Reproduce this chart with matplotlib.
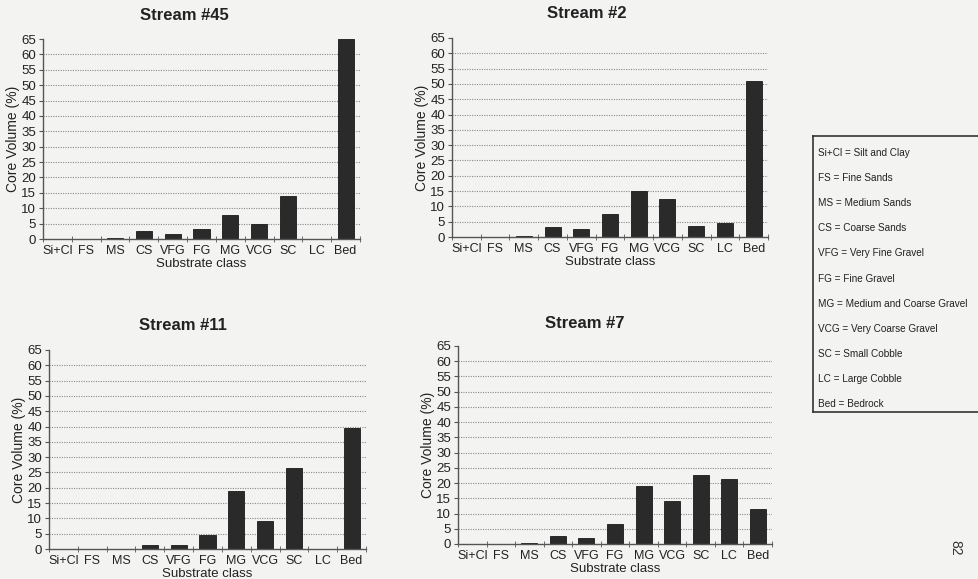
import matplotlib.pyplot as plt
import numpy as np

plt.rcParams['font.family'] = ['Liberation Sans', 'DejaVu Sans']

# Substrate classes and core volume (%) per stream
classes = ["Si+Cl", "FS", "MS", "CS", "VFG", "FG", "MG", "VCG", "SC", "LC", "Bed"]
stream_45 = [0, 0, 0.2, 2.7, 1.6, 3.2, 7.9, 5.0, 13.9, 0, 65.0]
stream_2 = [0, 0.1, 0.2, 3.3, 2.7, 7.4, 15.0, 12.3, 3.7, 4.6, 51.1]
stream_11 = [0, 0, 0, 1.2, 1.4, 4.5, 18.8, 9.1, 26.5, 0, 39.4]
stream_7 = [0, 0.1, 0.4, 2.7, 2.0, 6.6, 19.1, 14.1, 22.7, 21.2, 11.6]

titles = ["Stream #45", "Stream #2", "Stream #11", "Stream #7"]
series = [stream_45, stream_2, stream_11, stream_7]

legend_lines = ["Si+Cl = Silt and Clay", "FS = Fine Sands", "MS = Medium Sands",
                "CS = Coarse Sands", "VFG = Very Fine Gravel", "FG = Fine Gravel",
                "MG = Medium and Coarse Gravel", "VCG = Very Coarse Gravel",
                "SC = Small Cobble", "LC = Large Cobble", "Bed = Bedrock"]

W, H = 979, 579
bg = "#f3f3f2"
fig = plt.figure(figsize=(W / 100, H / 100), dpi=100, facecolor=bg)

# panel boxes in pixels: left, right, top, bottom; title centre x, y
boxes = [(43, 360, 39, 239), (452, 768, 38, 237), (49, 366, 350, 549), (458, 772, 346, 544)]
title_pos = [(184, 15), (587, 13), (183, 325), (585, 323)]

x = np.arange(len(classes))
for (l, r, t, b), (tx, ty), title, vals in zip(boxes, title_pos, titles, series):
    ax = fig.add_axes([l / W, 1 - b / H, (r - l) / W, (b - t) / H])
    ax.set_facecolor(bg)
    for yv in range(5, 65, 5):
        ax.axhline(yv, color="#8a8a8a", lw=0.8, ls=(0, (1, 1.2)), zorder=0)
    ax.bar(x, vals, width=0.56, color="#2a2a2a", edgecolor="#1a1a1a", lw=0.6, zorder=2)
    ax.set_xlim(-0.5, len(classes) - 0.5)
    ax.set_ylim(0, 65)
    ax.set_yticks(np.arange(0, 70, 5))
    ax.set_xticks(x)
    ax.set_xticklabels(classes, fontsize=9, color="#222222")
    ax.set_xticks(np.arange(-0.5, len(classes), 1), minor=True)
    ax.tick_params(axis="x", which="major", length=0, pad=4)
    ax.tick_params(axis="x", which="minor", length=5, direction="inout", color="#555555")
    ax.tick_params(axis="y", labelsize=9.5, length=3, pad=2, color="#555555", labelcolor="#222222")
    for s in ["top", "right"]:
        ax.spines[s].set_visible(False)
    for s in ["left", "bottom"]:
        ax.spines[s].set_color("#555555")
        ax.spines[s].set_linewidth(1.0)
    ax.set_xlabel("Substrate class", fontsize=9.5, color="#222222", labelpad=1)
    ax.set_ylabel("Core Volume (%)", fontsize=10, color="#222222", labelpad=1)
    fig.text(tx / W, 1 - ty / H, title, fontsize=12, fontweight="bold", color="#222222",
             ha="center", va="center")

# class abbreviation key
kl, kt, kb = 813, 136, 412
kw = W - kl + 20
key = fig.add_axes([kl / W, 1 - kb / H, kw / W, (kb - kt) / H])
key.set_xlim(0, kw)
key.set_ylim(kb, kt)
key.set_xticks([])
key.set_yticks([])
key.set_facecolor(bg)
for s in key.spines.values():
    s.set_color("#333333")
    s.set_linewidth(1.2)
for i, txt in enumerate(legend_lines):
    key.text(5, 153 + i * 25.1, txt, fontsize=7.2, va="center", ha="left", color="#222222")

# page number
fig.text(955 / W, 1 - 548 / H, "82", rotation=-90, fontsize=10, ha="center", va="center",
         color="#333333")

fig.savefig("out.png", dpi=100, facecolor=bg)
